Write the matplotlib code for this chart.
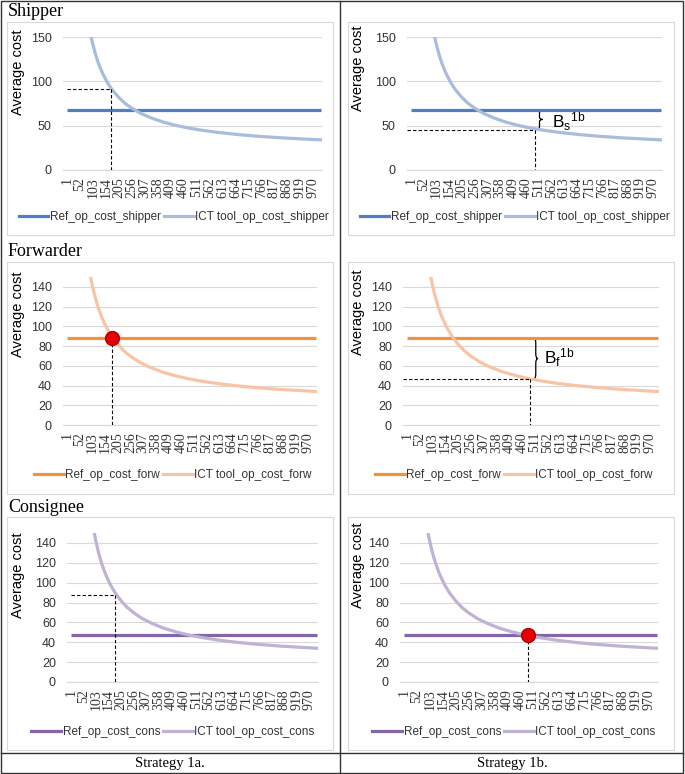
import matplotlib
matplotlib.use("Agg")
import matplotlib.pyplot as plt
from matplotlib.patches import Rectangle, PathPatch
from matplotlib.path import Path
from matplotlib.lines import Line2D

plt.rcParams['font.family'] = 'Liberation Sans'
plt.rcParams['mathtext.fontset'] = 'custom'
plt.rcParams['mathtext.rm'] = 'Liberation Sans'
plt.rcParams['mathtext.it'] = 'Liberation Sans:italic'

# data
ict_x = [96, 100, 110, 118, 125, 140, 160, 180, 205, 230, 256, 290, 330, 380,
         430, 480, 530, 600, 680, 760, 850, 930, 1000]
ict_cost = [150, 144.5, 133.5, 126, 120, 109.5, 98.5, 90, 81.7, 75, 69.7, 64, 59, 54,
            50.3, 47.3, 44.9, 42.2, 39.8, 37.9, 36.2, 35, 34]
ref_x = [1, 1000]
ref_shipper = 68
ref_forw = 88
ref_cons = 47
x_ticks = [1, 52, 103, 154, 205, 256, 307, 358, 409, 460, 511, 562, 613, 664,
           715, 766, 817, 868, 919, 970]
roles = ['Shipper', 'Forwarder', 'Consignee']
suffix = ['shipper', 'forw', 'cons']
ref_vals = [ref_shipper, ref_forw, ref_cons]
ref_colors = ['#4f7fbf', '#f0923e', '#8466a8']
ict_colors = ['#a9bcdb', '#f8c4a6', '#bfb2d2']
strategies = ['Strategy 1a.', 'Strategy 1b.']

W, H = 685, 774
fig = plt.figure(figsize=(W / 100, H / 100), dpi=100)

def fx(px):
    return px / W

def fy(py):
    return 1 - py / H

def brace(ax, x, y0, y1, w):
    ym = (y0 + y1) / 2
    e = (y1 - y0) * 0.12
    verts = [(x, y1), (x + w / 2, y1), (x + w / 2, y1 - e),
             (x + w / 2, ym + e),
             (x + w / 2, ym), (x + w, ym),
             (x + w / 2, ym), (x + w / 2, ym - e),
             (x + w / 2, y0 + e),
             (x + w / 2, y0), (x, y0)]
    codes = [Path.MOVETO, Path.CURVE3, Path.CURVE3, Path.LINETO,
             Path.CURVE3, Path.CURVE3, Path.CURVE3, Path.CURVE3,
             Path.LINETO, Path.CURVE3, Path.CURVE3]
    ax.add_patch(PathPatch(Path(verts, codes), fill=False, lw=0.9, color='black', clip_on=False))

# pixel layout: plot areas (left, right, top=150, bottom=0)
plots = [[(63, 322, 37, 170), (407, 662, 37, 170)],
         [(63, 317, 277, 425), (403, 659, 277, 425)],
         [(67, 318, 533, 682), (400, 658, 533, 682)]]
boxes = [(22, 235), (262, 494), (517, 750)]
titles_y = [12, 251, 507]
ylab_y = [[72, 68], [314, 312], [575, 565]]
legend_y = [217, 475, 732]

for r in range(3):
    fig.text(fx(8), fy(titles_y[r]), roles[r], family='Liberation Serif', fontsize=13,
             va='center', ha='left')
    for c in range(2):
        bx0 = 7 if c == 0 else 348
        fig.add_artist(Rectangle((fx(bx0), fy(boxes[r][1])), fx(326), boxes[r][1] / H - boxes[r][0] / H,
                                 transform=fig.transFigure, fill=False, ec='#d9d9d9', lw=0.8))
        l, rt, t, b = plots[r][c]
        ax = fig.add_axes([fx(l), fy(b), fx(rt - l), (b - t) / H])
        ax.set_xlim(-15, 1005)
        ax.set_ylim(0, 150)
        if r == 0:
            ax.set_yticks([0, 50, 100, 150])
        else:
            ax.set_yticks([0, 20, 40, 60, 80, 100, 120, 140])
        ax.grid(axis='y', color='#d9d9d9', lw=0.8)
        ax.set_axisbelow(True)
        for s in ['top', 'right', 'left']:
            ax.spines[s].set_visible(False)
        ax.spines['bottom'].set_color('#d9d9d9')
        ax.set_xticks(x_ticks)
        ax.set_xticklabels([str(v) for v in x_ticks], rotation=90, family='Liberation Serif',
                           fontsize=10, color='#333333')
        ax.tick_params(axis='x', length=0, pad=5)
        ax.tick_params(axis='y', length=0, pad=8, labelsize=9, labelcolor='#333333')
        ax.patch.set_alpha(0)

        ax.plot(ref_x, [ref_vals[r]] * 2, color=ref_colors[r], lw=2.3, solid_capstyle='butt')
        ax.plot(ict_x, ict_cost, color=ict_colors[r], lw=2.3, clip_on=True)

        fig.text(fx(bx0 + 11 if c == 0 else bx0 + 10), fy(ylab_y[r][c]), 'Average cost', rotation=90,
                 fontsize=10.5, va='center', ha='center')

        dash = dict(color='black', lw=0.8, ls=(0, (3, 2)))
        if r == 0 and c == 0:
            ax.plot([1, 175], [91, 91], **dash)
            ax.plot([175, 175], [91, 0], **dash)
        if r == 0 and c == 1:
            ax.plot([-15, 495], [45, 45], **dash)
            ax.plot([495, 495], [45, 0], **dash)
            brace(ax, 503, 46, 68, 24)
            ax.text(566, 55, r'$\mathrm{B_s}^{\mathrm{1b}}$', fontsize=12.5, va='center', ha='left')
        if r == 1 and c == 0:
            ax.plot([182, 182], [88, 0], **dash)
            ax.plot([182], [88], 'o', ms=10, mfc='#e60000', mec='#b00000', mew=1, zorder=5)
        if r == 1 and c == 1:
            ax.plot([-15, 490], [46.7, 46.7], **dash)
            ax.plot([490, 490], [46.7, 0], **dash)
            brace(ax, 505, 46.7, 88, 18)
            ax.text(547, 68, r'$\mathrm{B_f}^{\mathrm{1b}}$', fontsize=12.5, va='center', ha='left')
        if r == 2 and c == 0:
            ax.plot([1, 182], [88, 88], **dash)
            ax.plot([182, 182], [88, 0], **dash)
        if r == 2 and c == 1:
            ax.plot([490, 490], [47, 0], **dash)
            ax.plot([490], [47], 'o', ms=10, mfc='#e60000', mec='#b00000', mew=1, zorder=5)

        handles = [Line2D([], [], color=ref_colors[r], lw=2.3),
                   Line2D([], [], color=ict_colors[r], lw=2.3)]
        labels = ['Ref_op_cost_' + suffix[r], 'ICT tool_op_cost_' + suffix[r]]
        cx = (bx0 + 167) if r == 0 else (bx0 + 166)
        leg = fig.legend(handles, labels, loc='center', bbox_to_anchor=(fx(cx), fy(legend_y[r])),
                         ncol=2, frameon=False, fontsize=8.5, handlelength=2.5, handletextpad=0.15,
                         columnspacing=0.25, borderaxespad=0, borderpad=0)
        for tx in leg.get_texts():
            tx.set_color('#333333')

# table lines
lk = dict(transform=fig.transFigure, color='#333333', lw=1.0)
fig.add_artist(Rectangle((fx(1), fy(773)), fx(682), 772 / H, transform=fig.transFigure,
                         fill=False, ec='#333333', lw=1.0))
fig.add_artist(Line2D([fx(340), fx(340)], [fy(1), fy(773)], **lk))
fig.add_artist(Line2D([fx(1), fx(683)], [fy(753), fy(753)], **lk))
fig.text(fx(170), fy(763), strategies[0], family='Liberation Serif', fontsize=10.5, ha='center', va='center')
fig.text(fx(512), fy(763), strategies[1], family='Liberation Serif', fontsize=10.5, ha='center', va='center')

fig.savefig('out.png', dpi=100)
